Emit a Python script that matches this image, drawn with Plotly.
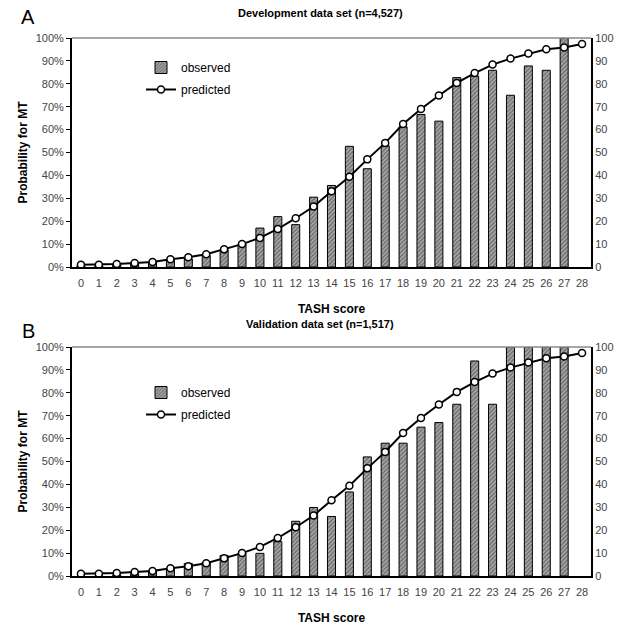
import plotly.graph_objects as go

scores = list(range(29))
tick_labels = [str(s) for s in scores]

obs_dev = [0.5, 0.5, 1, 1.5, 2, 3, 3.5, 5, 7.5, 10, 17, 22, 18.5, 30.5, 35.6, 52.7, 42.9,
           52.9, 61.2, 66.6, 63.7, 82.7, 83.3, 85.9, 75, 87.8, 85.9, 100, None]
obs_val = [0, 0, 0.5, 1, 2.2, 3.2, 5.5, 6, 9, 10, 9.9, 15, 23.9, 29.9, 26, 36.7, 52,
           58, 58, 65, 67, 75, 93.9, 75, 100, 100, 100, 100, None]
pred = [1, 1, 1.3, 1.7, 2.2, 3.4, 4.3, 5.6, 7.7, 10, 12.7, 16.6, 21.3, 26.4, 33.1,
        39.4, 47, 54.2, 62.4, 69, 74.9, 80.4, 84.7, 88.4, 91, 93.2, 95.1, 95.9, 97.4]

FONT = "Liberation Sans, Arial, sans-serif"
XD = [72/627, 591/627]
YA = [1-267/628, 1-38/628]
YB = [1-576/628, 1-347/628]

bar_marker = dict(color="#a0a0a0", line=dict(color="black", width=1),
                  pattern=dict(shape="/", fgcolor="#222", bgcolor="#a8a8a8", size=3, solidity=0.4))

fig = go.Figure()
fig.add_trace(go.Bar(x=scores, y=obs_dev, name="observed", marker=bar_marker, width=0.45,
                     xaxis="x", yaxis="y", legend="legend", legendgroup="o"))
fig.add_trace(go.Scatter(x=scores, y=pred, name="predicted", mode="lines+markers",
                         line=dict(color="black", width=2),
                         marker=dict(symbol="circle", size=7, color="white", line=dict(color="black", width=1.5)),
                         xaxis="x", yaxis="y", legend="legend", legendgroup="p"))
fig.add_trace(go.Bar(x=scores, y=obs_val, name="observed", marker=bar_marker, width=0.45,
                     xaxis="x2", yaxis="y2", legend="legend2", legendgroup="o2"))
fig.add_trace(go.Scatter(x=scores, y=pred, name="predicted", mode="lines+markers",
                         line=dict(color="black", width=2),
                         marker=dict(symbol="circle", size=7, color="white", line=dict(color="black", width=1.5)),
                         xaxis="x2", yaxis="y2", legend="legend2", legendgroup="p2"))
# invisible traces to make the right-hand 0-100 axes render
fig.add_trace(go.Scatter(x=[0], y=[0], mode="markers", marker=dict(opacity=0), showlegend=False,
                         hoverinfo="skip", xaxis="x", yaxis="y3"))
fig.add_trace(go.Scatter(x=[0], y=[0], mode="markers", marker=dict(opacity=0), showlegend=False,
                         hoverinfo="skip", xaxis="x2", yaxis="y4"))

tickfont = dict(family=FONT, size=11, color="#444")
xcommon = dict(domain=XD, range=[-0.5, 28.5], tickmode="array", tickvals=scores, ticktext=tick_labels,
               showline=True, linecolor="black", linewidth=2, ticks="", tickfont=tickfont,
               ticklabelstandoff=5,
               showgrid=False, zeroline=False, fixedrange=True, automargin=False)
ycommon = dict(range=[0, 100], dtick=10, ticksuffix="%", showline=True, linecolor="black", linewidth=2,
               ticks="outside", ticklen=4, tickcolor="black", tickfont=tickfont, showgrid=False,
               zeroline=False, automargin=False)
yright = dict(range=[0, 100], dtick=10, side="right", showline=True, linecolor="black", linewidth=2,
              ticks="", tickfont=tickfont, showgrid=False, zeroline=False, automargin=False)
axtitle = dict(family=FONT, size=12, color="black")

fig.update_layout(
    width=627, height=628, margin=dict(l=0, r=0, t=0, b=0, autoexpand=False),
    plot_bgcolor="white", paper_bgcolor="white", barmode="overlay",
    font=dict(family=FONT, color="black"),
    xaxis=dict(**xcommon, anchor="y", title=dict(text="<b>TASH score</b>", font=axtitle, standoff=16)),
    xaxis2=dict(**xcommon, anchor="y2", title=dict(text="<b>TASH score</b>", font=axtitle, standoff=16)),
    yaxis=dict(**ycommon, domain=YA, anchor="x",
               title=dict(text="<b>Probability for MT</b>", font=axtitle, standoff=5)),
    yaxis2=dict(**ycommon, domain=YB, anchor="x2",
                title=dict(text="<b>Probability for MT</b>", font=axtitle, standoff=5)),
    yaxis3=dict(**yright, overlaying="y", anchor="x"),
    yaxis4=dict(**yright, overlaying="y2", anchor="x2"),
    legend=dict(x=141/627, y=1-53/628, xanchor="left", yanchor="top", bgcolor="rgba(0,0,0,0)",
                font=dict(family=FONT, size=12, color="black"), traceorder="grouped", tracegroupgap=3,
                itemwidth=30),
    legend2=dict(x=141/627, y=1-378/628, xanchor="left", yanchor="top", bgcolor="rgba(0,0,0,0)",
                 font=dict(family=FONT, size=12, color="black"), traceorder="grouped", tracegroupgap=3,
                 itemwidth=30),
    shapes=[
        dict(type="line", xref="x domain", yref="y domain", x0=0, x1=1, y0=1, y1=1,
             line=dict(color="#888", width=1.5)),
        dict(type="line", xref="x2 domain", yref="y2 domain", x0=0, x1=1, y0=1, y1=1,
             line=dict(color="#888", width=1.5)),
    ],
    annotations=[
        dict(text="<b>Development data set (n=4,527)</b>", x=320/627, y=1-13/628, xref="paper", yref="paper",
             xanchor="center", yanchor="middle", showarrow=False, font=dict(family=FONT, size=11, color="black")),
        dict(text="<b>Validation data set (n=1,517)</b>", x=320/627, y=1-324/628, xref="paper", yref="paper",
             xanchor="center", yanchor="middle", showarrow=False, font=dict(family=FONT, size=11, color="black")),
        dict(text="A", x=28/627, y=1-17/628, xref="paper", yref="paper", showarrow=False,
             xanchor="center", yanchor="middle", font=dict(family=FONT, size=20, color="black")),
        dict(text="B", x=28/627, y=1-331/628, xref="paper", yref="paper", showarrow=False,
             xanchor="center", yanchor="middle", font=dict(family=FONT, size=20, color="black")),
    ],
)

fig.write_html("out.html")
